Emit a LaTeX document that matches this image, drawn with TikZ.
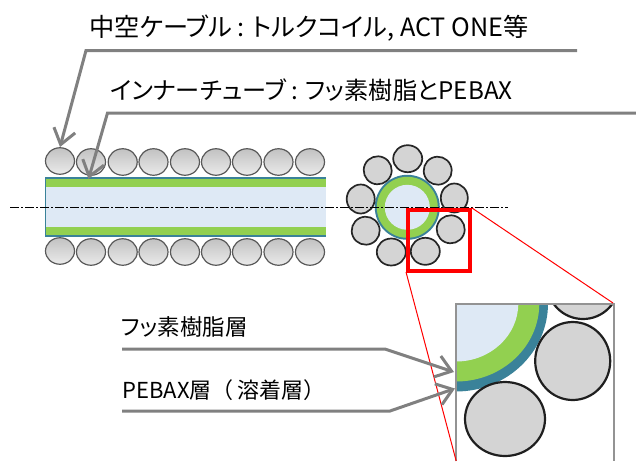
\documentclass[tikz,border=0pt]{standalone}
\usepackage{fontspec}
\setmainfont{Noto Sans CJK JP}[RawFeature=+palt]
\newfontfamily\widecjk{Noto Sans CJK JP}
\usepackage{xcolor}
\usetikzlibrary{arrows.meta}
\usetikzlibrary{shapes.geometric}
\definecolor{layerteal}{HTML}{3A8299}
\definecolor{layergreen}{HTML}{92D050}
\definecolor{layerlumen}{HTML}{DEE9F5}
\definecolor{wiregray}{HTML}{D4D4D4}
\definecolor{leadgray}{HTML}{808080}
\tikzset{
  wire/.style={ellipse, draw=black!65, line width=1.2pt, top color=black!24, bottom color=black!8, minimum width=29pt, minimum height=26.5pt, inner sep=0pt},
  strand/.style={ellipse, draw=black!85, line width=1.7pt, fill=wiregray, minimum width=28pt, minimum height=28pt, inner sep=0pt},
  bigstrand/.style={ellipse, draw=black!88, line width=2.2pt, fill=wiregray, inner sep=0pt},
  leader/.style={draw=leadgray, line width=3pt, -{Straight Barb[length=15pt,width=22pt,line width=3pt]}},
  label/.style={anchor=west, inner sep=0pt}
}
\begin{document}
\begin{tikzpicture}[x=1pt, y=-1pt]
        \useasboundingbox (0,0) rectangle (636,461);

        % upper wires
        \node[wire] (t1) at (60,161) {};
        \node[wire] (t2) at (91,162) {};
        \node[wire] (t3) at (122.7,162) {};
        \node[wire] (t4) at (153.5,162) {};
        \node[wire] (t5) at (185,162) {};
        \node[wire] (t6) at (216,162) {};
        \node[wire] (t7) at (247,162) {};
        \node[wire] (t8) at (278.5,162) {};
        \node[wire] (t9) at (310,162) {};

        % lower wires
        \node[wire] (b1) at (60,251) {};
        \node[wire] (b2) at (91,252) {};
        \node[wire] (b3) at (122.7,252) {};
        \node[wire] (b4) at (153.5,252) {};
        \node[wire] (b5) at (185,252) {};
        \node[wire] (b6) at (216,252) {};
        \node[wire] (b7) at (247,252) {};
        \node[wire] (b8) at (278.5,252) {};
        \node[wire] (b9) at (310,252) {};

        % inner tube
        \fill[layerteal] (45,176.7) rectangle (326,236.7);
        \fill[layergreen] (45.8,178.7) rectangle (326,234.7);
        \fill[layerlumen] (45.8,187) rectangle (326,226.7);

        % cross section
        \fill[layerteal] (407.3,207.3) circle (32.5);
        \fill[layergreen] (407.3,207.3) circle (30.5);
        \fill[layerlumen] (407.3,207.3) circle (22.5);
        \node[strand, minimum width=29pt, minimum height=27pt] (s1) at (407.7,158.7) {};
        \node[strand, rotate=-25] (s2) at (377.7,170.3) {};
        \node[strand, rotate=25] (s3) at (437.7,170.7) {};
        \node[strand, minimum width=28pt, minimum height=29pt] (s4) at (360.7,199) {};
        \node[strand, minimum width=27pt, minimum height=29pt] (s5) at (454.3,198) {};
        \node[strand, rotate=25] (s6) at (365.7,230.7) {};
        \node[strand, rotate=-25] (s7) at (450.7,229.3) {};
        \node[strand, minimum width=29pt, minimum height=27pt] (s8) at (391.3,252) {};
        \node[strand, minimum width=29pt, minimum height=27pt] (s9) at (425.3,251.3) {};

        % centre line
        \draw[line width=.8pt, dash pattern=on 9pt off 2pt on 2pt off 2pt] (10,207.5) -- (508,207.5);

        % enlarged part
        \begin{scope}
        \clip (456,303.5) rectangle (614,461);
        \fill[layerteal] (456,303.5) ellipse (92 and 88);
        \fill[layergreen] (456,303.5) ellipse (83.3 and 78);
        \fill[layerlumen] (456,303.5) ellipse (62.3 and 58);
        \node[bigstrand, minimum width=75pt, minimum height=78pt] (m1) at (572.7,361) {};
        \node[bigstrand, minimum width=80pt, minimum height=74pt] (m2) at (505,419) {};
        \node[bigstrand, minimum width=72pt, minimum height=72pt] (m3) at (583,283) {};
        \end{scope}
        \draw[leadgray!85, line width=2pt] (456,461) -- (456,303.5) -- (614,303.5) -- (614,461);

        % red frame
        \coordinate (frameNE) at (472,208);
        \coordinate (frameSW) at (406,272);
        \coordinate (zoomNE) at (613,303);
        \coordinate (zoomSW) at (456.2,461);
        \draw[red, line width=1pt] (frameNE) -- (zoomNE);
        \draw[red, line width=1pt] (frameSW) -- (zoomSW);
        \draw[red, line width=4pt] (408,209.5) rectangle (470,270.5);

        % leaders
        \coordinate (coilEnd) at (577,50.5);
        \coordinate (coilBend) at (86,50.5);
        \coordinate (coilTip) at (60,147);
        \coordinate (tubeEnd) at (636,113);
        \coordinate (tubeBend) at (107.5,113);
        \coordinate (tubeTip) at (88.5,179);
        \coordinate (fluorEnd) at (122,349);
        \coordinate (fluorBend) at (385,349);
        \coordinate (fluorTip) at (454,372);
        \coordinate (pebaxEnd) at (122,411);
        \coordinate (pebaxBend) at (390,411);
        \coordinate (pebaxTip) at (455,388.5);
        \draw[leader] (coilEnd) -- (coilBend) -- (coilTip);
        \draw[leader] (tubeEnd) -- (tubeBend) -- (tubeTip);
        \draw[leader] (fluorEnd) -- (fluorBend) -- (fluorTip);
        \draw[leader] (pebaxEnd) -- (pebaxBend) -- (pebaxTip);

        % labels
        \node[label, font=\fontsize{25.2}{28}\selectfont] (coilText) at (89,28) {中空ケーブル : トルクコイル, ACT ONE等};
        \node[label, font=\fontsize{24.2}{28}\selectfont] (tubeText) at (110,90) {インナーチューブ : フッ素樹脂とPEBAX};
        \node[label, font=\fontsize{22.5}{24}\selectfont] (fluorText) at (121,327) {フッ素樹脂層};
        \node[label, font=\widecjk\fontsize{22}{24}\selectfont] (pebaxText) at (122,390) {PEBAX層（\hspace{4pt}溶着層）};
    \end{tikzpicture}
\end{document}
